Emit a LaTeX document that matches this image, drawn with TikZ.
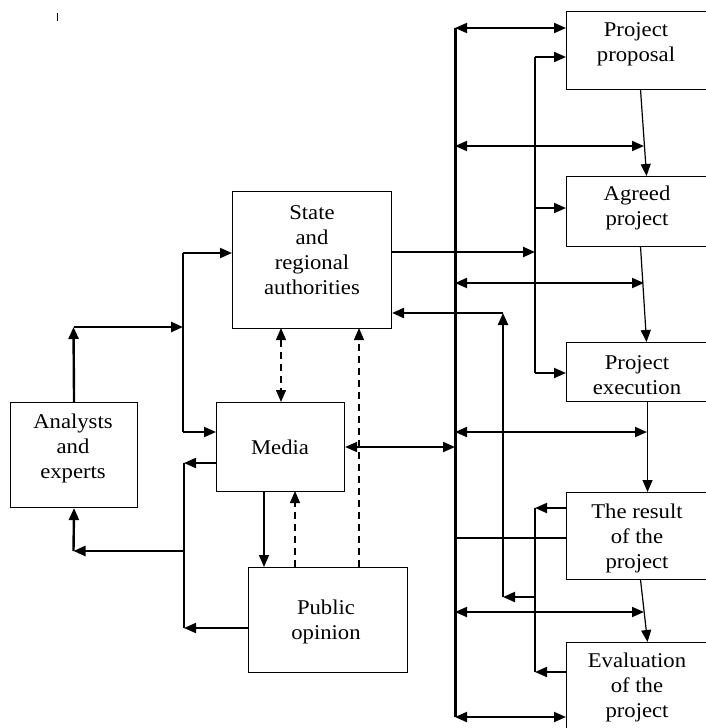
\documentclass[tikz,border=0pt]{standalone}
\usepackage{fontspec}
\setmainfont{Liberation Serif}[FakeStretch=1.08]
\usetikzlibrary{arrows.meta}
\begin{document}
\begin{tikzpicture}[x=1pt,y=-1pt,
  box/.style={draw, line width=1.1pt, inner sep=0pt, anchor=north west},
  txt/.style={align=center, inner sep=0pt, font=\fontsize{21}{25}\selectfont},
  tipend/.style={-{Triangle[length=12pt,width=10pt]}},
  tipboth/.style={{Triangle[length=12pt,width=10pt]}-{Triangle[length=12pt,width=10pt]}},
  busline/.style={line width=3pt},
  thick line/.style={line width=2.4pt},
  mid line/.style={line width=1.9pt},
  thin line/.style={line width=1.2pt},
  dash line/.style={line width=1.3pt, dash pattern=on 7pt off 5pt},
]
\useasboundingbox (0,0) rectangle (706,728);

% stray mark
\draw[line width=1pt] (57,13) coordinate (markA) -- (57,21) coordinate (markB);

% ---------- boxes ----------
\node[box, minimum width=145pt, minimum height=78pt]  (pp) at (566,11)  {};
\node[box, minimum width=145pt, minimum height=70pt]  (ap) at (566,176) {};
\node[box, minimum width=145pt, minimum height=59pt]  (pe) at (566,342) {};
\node[box, minimum width=145pt, minimum height=87pt]  (rp) at (566,492) {};
\node[box, minimum width=145pt, minimum height=100pt] (ep) at (566,642) {};
\node[box, minimum width=159pt, minimum height=137pt] (st) at (232,191) {};
\node[box, minimum width=128pt, minimum height=89pt]  (md) at (216,402) {};
\node[box, minimum width=127pt, minimum height=105pt] (an) at (10,402)  {};
\node[box, minimum width=159pt, minimum height=105pt] (po) at (248,567) {};

% ---------- texts ----------
\node[txt] (ppt) at (636,44.5) {Project\\proposal};
\node[txt] (apt) at (637,208)  {Agreed\\project};
\node[txt] (pet) at (637,375)  {Project\\execution};
\node[txt] (rpt) at (637,538)  {The result\\of the\\project};
\node[txt] (ept) at (637,687)  {Evaluation\\of the\\project};
\node[txt] (stt) at (312,250)  {State\\and\\regional\\authorities};
\node[txt] (mdt) at (280,447)  {Media};
\node[txt] (ant) at (73,448)   {Analysts\\and\\experts};
\node[txt] (pot) at (326,622)  {Public\\opinion};

% ---------- main bus ----------
\coordinate (busT) at (455,28);
\coordinate (busB) at (455,717);
\draw[busline] (busT) -- (busB);

\coordinate (b1) at (455,146);
\coordinate (b2) at (455,283);
\coordinate (b3) at (455,432);
\coordinate (b4) at (455,612);
\coordinate (b5) at (455,538);
\coordinate (bm) at (455,447);
\coordinate (f1) at (644,146);
\coordinate (f2) at (644,283);
\coordinate (f3) at (647,432);
\coordinate (f4) at (644,612);

\draw[mid line, tipboth] (busT) -- (busT -| pp.west);
\draw[mid line, tipboth] (b1) -- (f1);
\draw[mid line, tipboth] (b2) -- (f2);
\draw[mid line, tipboth] (b3) -- (f3);
\draw[mid line, tipboth] (b4) -- (f4);
\draw[mid line, tipboth] (busB) -- (busB -| ep.west);
\draw[thin line] (b5) -- (b5 -| rp.west);
\draw[mid line, tipboth] (bm -| md.east) -- (bm);

% ---------- flow between stages ----------
\draw[thin line, tipend] ([xshift=1.5pt]pp.south) -- ([xshift=7.5pt]ap.north);
\draw[thin line, tipend] ([xshift=1.5pt]ap.south) -- ([xshift=7.5pt]pe.north);
\draw[thin line, tipend] ([xshift=8.5pt]pe.south) -- ([xshift=8.5pt]rp.north);
\draw[thin line, tipend] ([xshift=1.5pt]rp.south) -- ([xshift=8.5pt]ep.north);

% ---------- authorities to the first stages ----------
\coordinate (s1) at (535,57);
\coordinate (s2) at (535,208);
\coordinate (s3) at (535,373);
\coordinate (sIn) at (535,252);
\draw[thick line] (s1) -- (s3);
\draw[thick line, tipend] (sIn -| st.east) -- (sIn);
\draw[mid line, tipend] (s1) -- (s1 -| pp.west);
\draw[mid line, tipend] (s2) -- (s2 -| ap.west);
\draw[mid line, tipend] (s3) -- (s3 -| pe.west);

% ---------- feedback from results ----------
\coordinate (r1) at (535,508);
\coordinate (r2) at (535,672);
\coordinate (r3) at (535,597);
\coordinate (k1) at (503,597);
\coordinate (k2) at (503,313);
\draw[thick line] (r1) -- (r2);
\draw[mid line, tipend] (r1 -| rp.west) -- (r1);
\draw[mid line, tipend] (r2 -| ep.west) -- (r2);
\draw[mid line, tipend] (r3) -- (k1);
\draw[thick line, tipend] (k1) -- (k2);
\draw[thick line, tipend] (k2) -- (k2 -| st.east);

% ---------- analysts to authorities and media ----------
\coordinate (a1) at (73.5,327);
\coordinate (a2) at (183,327);
\coordinate (a3) at (183,253);
\coordinate (a4) at (183,432);
\draw[thick line, tipend] (an.north) -- (a1);
\draw[thick line, tipend] (a1) -- (a2);
\draw[thick line] (a3) -- (a4);
\draw[mid line, tipend] (a3) -- (a3 -| st.west);
\draw[mid line, tipend] (a4) -- (a4 -| md.west);

% ---------- media and opinion back to analysts ----------
\coordinate (m1) at (184,463);
\coordinate (m2) at (184,628);
\coordinate (m3) at (184,551);
\coordinate (m4) at (73.5,551);
\draw[thick line] (m1) -- (m2);
\draw[mid line, tipend] (m1 -| md.west) -- (m1);
\draw[mid line, tipend] (m2 -| po.west) -- (m2);
\draw[thick line, tipend] (m3) -- (m4);
\draw[thick line, tipend] (m4) -- (an.south);

% ---------- media, opinion and authorities ----------
\coordinate (d1) at (281,328);
\coordinate (d2) at (359,328);
\coordinate (d3) at (264,491);
\coordinate (d4) at (295,491);
\draw[dash line, tipboth] (d1) -- (d1 |- md.north);
\draw[dash line, tipend] (d2 |- po.north) -- (d2);
\draw[line width=1.5pt, tipend] (d3) -- (d3 |- po.north);
\draw[dash line, tipend] (d4 |- po.north) -- (d4);

\end{tikzpicture}
\end{document}
